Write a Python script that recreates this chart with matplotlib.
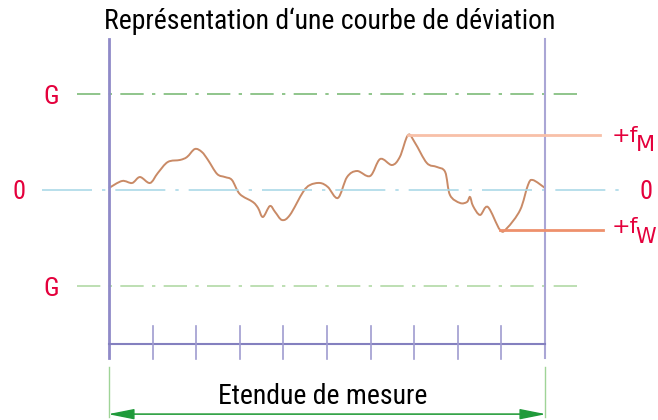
import matplotlib
matplotlib.use("Agg")
import matplotlib.pyplot as plt
import numpy as np
from matplotlib.path import Path
from matplotlib.patches import PathPatch

plt.rcParams['font.family'] = ['Roboto Condensed', 'DejaVu Sans']
RED = '#e4003c'
WIDE = ['DejaVu Sans']

curve_x = [0.00, 0.30, 0.53, 0.71, 0.94, 1.12, 1.35, 1.63, 1.79, 1.97, 2.13, 2.27, 2.48,
           2.66, 2.82, 3.00, 3.30, 3.42, 3.53, 3.69, 3.81, 3.97, 4.15, 4.45, 4.61, 4.84,
           5.02, 5.25, 5.46, 5.69, 5.99, 6.22, 6.49, 6.67, 6.86, 7.02, 7.29, 7.52, 7.71,
           7.82, 8.05, 8.21, 8.28, 8.35, 8.51, 8.69, 8.97, 9.13, 9.43, 9.61, 9.72, 10.0]
curve_y = [0.21, 0.94, 0.73, 1.35, 0.73, 1.77, 2.92, 3.13, 3.44, 4.27, 3.96, 3.13, 1.67,
           1.35, 1.04, -0.42, -1.25, -1.88, -2.81, -1.67, -2.29, -3.13, -2.60, -0.21, 0.52, 0.73,
           0.31, -0.83, 1.35, 1.98, 1.46, 3.23, 2.60, 3.44, 5.73, 4.90, 2.81, 2.40, 1.88,
           -0.52, -1.35, -1.25, -0.73, -1.67, -2.60, -1.77, -4.17, -3.96, -2.08, 0.52, 1.04, 0.21]
limit_g = 10.0
ticks = list(range(1, 10))
title = "Représentation d‘une courbe de déviation"
range_label = "Etendue de mesure"

fig = plt.figure(figsize=(6.58, 4.2), dpi=100)
ax = fig.add_axes([0, 0, 1, 1])
# 43.6 px per x unit, 9.6 px per y unit
ax.set_xlim(-109 / 43.6, (658 - 109) / 43.6)
ax.set_ylim(-230 / 9.6, 190 / 9.6)
ax.axis('off')

cx = np.array(curve_x)
cy = np.array(curve_y)

dashdot = (0, (14, 5, 2, 5))
# reference lines
ax.plot([-0.73, 10.85], [limit_g, limit_g], color='#7dbb78', lw=1.2, ls=dashdot)
ax.plot([-0.73, 10.85], [-limit_g, -limit_g], color='#b2d9a6', lw=1.2, ls=dashdot)
ax.plot([-1.54, 11.88], [0, 0], color='#abd9e8', lw=1.2, ls=(0, (30, 6, 2, 6)))

# frame of the measuring range
ax.plot([0, 0], [15.7, -17.5], color='#8f8ac8', lw=2)
ax.plot([10, 10], [15.7, -17.5], color='#aaa6d5', lw=1.5)
ax.plot([0, 10], [-16.0, -16.0], color='#8480bf', lw=1.5)
for t in ticks:
    ax.plot([t, t], [-14.2, -17.6], color='#a09cd0', lw=1.2)

# f_M / f_W lines
i_max = int(np.argmax(cy))
i_min = int(np.argmin(cy))
f_m = cy[i_max]
f_w = cy[i_min]
ax.plot([cx[i_max], 11.26], [f_m, f_m], color='#f8c0a8', lw=2)
ax.plot([cx[i_min], 11.33], [f_w, f_w], color='#ee906c', lw=2)

# curve, drawn as a smooth Catmull-Rom path through the points
pts = np.column_stack([cx, cy])
ext = np.vstack([pts[0], pts, pts[-1]])
verts = [pts[0]]
codes = [Path.MOVETO]
for i in range(len(pts) - 1):
    p0, p1, p2, p3 = ext[i], ext[i + 1], ext[i + 2], ext[i + 3]
    verts += [p1 + (p2 - p0) / 6, p2 - (p3 - p1) / 6, p2]
    codes += [Path.CURVE4] * 3
ax.add_patch(PathPatch(Path(verts, codes), fill=False, edgecolor='#c98a66', lw=1.4))

# range arrow
ax.plot([0, 0], [-18.4, -23.6], color='#9fd497', lw=1)
ax.plot([10, 10], [-18.4, -23.6], color='#9fd497', lw=1)
ax.annotate('', xy=(-0.02, -23.35), xytext=(10.02, -23.35),
            arrowprops=dict(arrowstyle='<|-|>,head_length=1.6,head_width=0.32',
                            color='#1f9a3a', lw=1, shrinkA=0, shrinkB=0))
ax.plot([0.6, 9.4], [-23.35, -23.35], color='#b0dca8', lw=1.2)

# texts
ax.text(5.07, 16.77, title, fontsize=20, ha='center', va='baseline', color='black')
ax.text(4.89, -22.3, range_label, fontsize=20, ha='center', va='baseline', color='black')
label_kw = dict(fontsize=19, color=RED, va='baseline', ha='center')
ax.text(-1.33, limit_g - 1.0, 'G', **label_kw)
ax.text(-1.33, -limit_g - 1.05, 'G', **label_kw)
ax.text(-2.06, -0.94, '0', **label_kw)
ax.text(12.31, -0.94, '0', **label_kw)
ax.text(11.52, f_m - 0.75, '+f', family=WIDE, fontsize=16, color=RED, va='baseline', ha='left')
ax.text(12.08, f_m - 1.7, 'M', family=WIDE, fontsize=16, color=RED, va='baseline', ha='left')
ax.text(11.52, f_w - 0.3, '+f', family=WIDE, fontsize=16, color=RED, va='baseline', ha='left')
ax.text(12.08, f_w - 1.35, 'W', family=WIDE, fontsize=15, color=RED, va='baseline', ha='left')

fig.savefig('out.png', dpi=100)
